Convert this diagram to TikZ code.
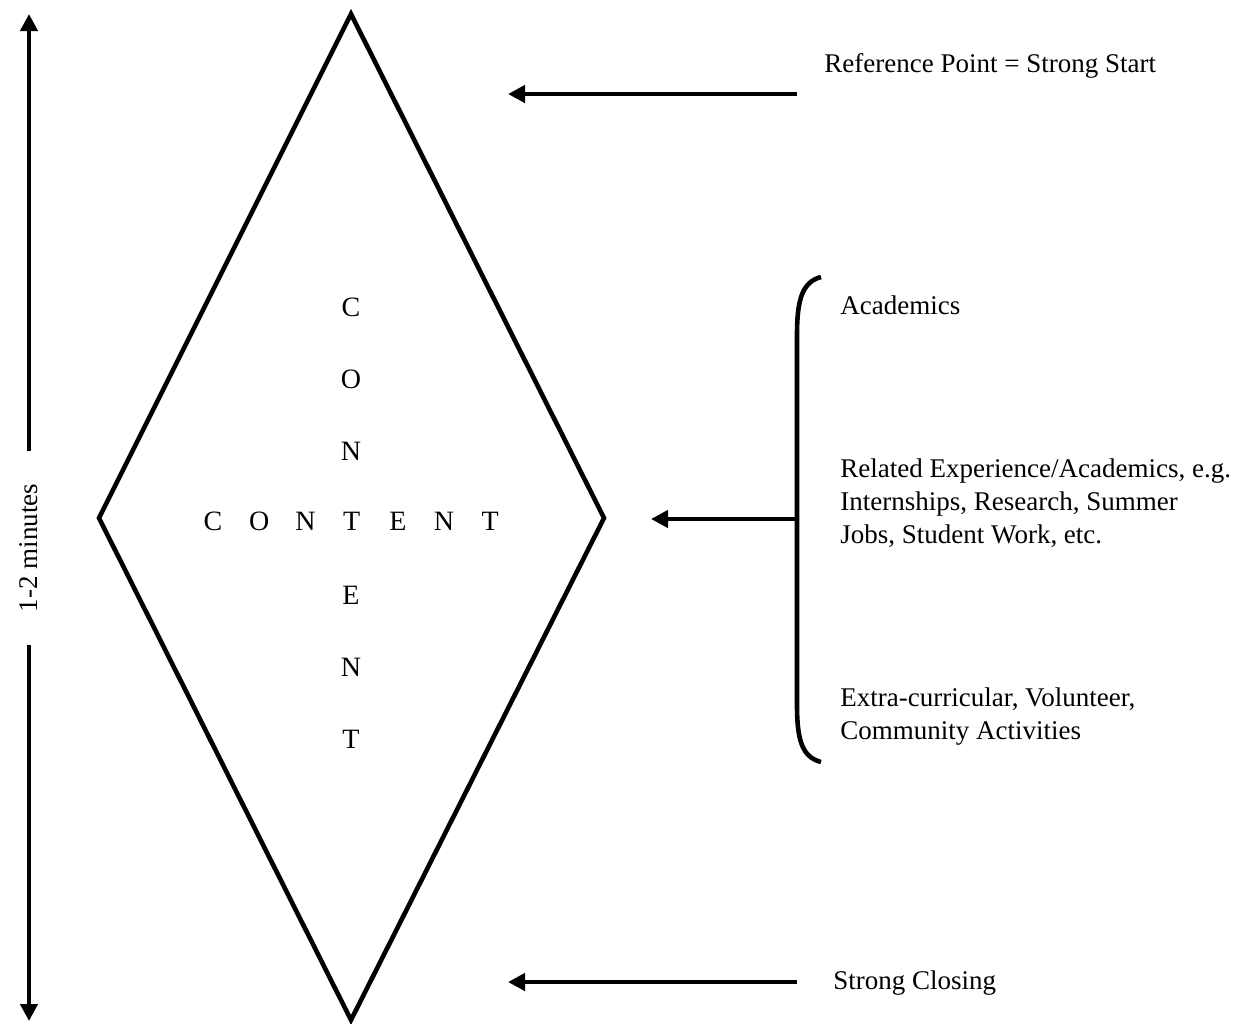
\documentclass[tikz,border=0pt]{standalone}
\usepackage{fontspec}
\setmainfont{Liberation Serif}
\usetikzlibrary{arrows.meta}
\tikzset{
	heavy/.style     = {line width=2.3pt},
	pointer/.style   = {heavy, -{Triangle[length=8.5pt,width=8.5pt]}},
	note/.style      = {anchor=west, inner sep=0pt, align=left, font=\fontsize{13.5}{16.5}\selectfont},
	letter/.style    = {inner sep=0pt, font=\fontsize{14}{16}\selectfont}
}
\begin{document}
\begin{tikzpicture}
			[
				x                       = 0.5pt,
				y                       = -0.5pt,
				line join               = miter
			]
			\useasboundingbox (0,0) rectangle (1251,1023);
			\coordinate (top)    at (351,14);
			\coordinate (left)   at (99,518);
			\coordinate (right)  at (604,518);
			\coordinate (bottom) at (351,1020);
			\draw [heavy] (top) -- (right) -- (bottom) -- (left) -- cycle;
			\foreach \l [count=\i] in {C,O,N,T,E,N,T}
				{\node [letter] (h\i) at ({213+46.2*(\i-1)},521) {\l};}
			\foreach \l [count=\i] in {C,O,N,T,E,N,T}
				{\ifnum\i=4\relax\else
					\node [letter] (v\i) at (351,{307+72*(\i-1)}) {\l};
				\fi}
			\node [note, rotate=90, anchor=center, inner xsep=16pt] (dur) at (29,548) {1-2 minutes};
			\coordinate (durtop) at (29,14);
			\coordinate (durbot) at (29,1021);
			\draw [pointer] (dur.east) -- (durtop);
			\draw [pointer] (dur.west) -- (durbot);
			\node [note] (start) at (824,66) {Reference Point = Strong Start};
			\coordinate (starttail) at (797,94);
			\coordinate (starthead) at (508,94);
			\draw [pointer] (starttail) -- (starthead);
			\node [note] (close) at (833,983) {Strong Closing};
			\coordinate (closetail) at (797,982);
			\coordinate (closehead) at (508,982);
			\draw [pointer] (closetail) -- (closehead);
			\coordinate (bracetop) at (821,277);
			\coordinate (bracemid) at (797,519);
			\coordinate (bracebot) at (821,762);
			\draw [heavy] (bracetop) .. controls (802,282) and (797,300) .. (797,335)
				-- (797,705) .. controls (797,740) and (802,757) .. (bracebot);
			\coordinate (midhead) at (651,519);
			\draw [pointer] (bracemid) -- (midhead);
			\node [note] (acad) at (840,305) {Academics};
			\node [note] (related) at (840,503) {Related Experience/Academics, e.g.\\Internships, Research, Summer\\Jobs, Student Work, etc.};
			\node [note] (extra) at (840,717) {Extra-curricular, Volunteer,\\Community Activities};
		\end{tikzpicture}
\end{document}
